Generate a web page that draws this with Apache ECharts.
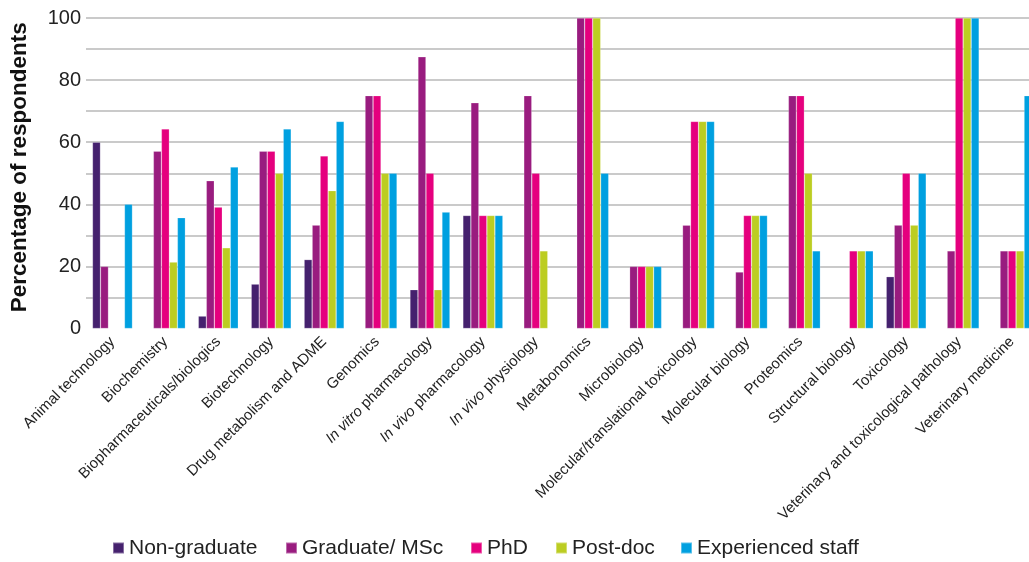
<!DOCTYPE html>
<html>
<head>
<meta charset="utf-8">
<script src="https://cdn.jsdelivr.net/npm/echarts@6/dist/echarts.min.js"></script>
<style>
html,body{margin:0;padding:0;background:#fff;}
#chart{width:1029px;height:562px;}
</style>
</head>
<body>
<div id="chart"></div>
<script>
const categories = ["Animal technology","Biochemistry","Biopharmaceuticals/biologics","Biotechnology","Drug metabolism and ADME","Genomics","In vitro pharmacology","In vivo pharmacology","In vivo physiology","Metabonomics","Microbiology","Molecular/translational toxicology","Molecular biology","Proteomics","Structural biology","Toxicology","Veterinary and toxicological pathology","Veterinary medicine"];
const seriesNames = ["Non-graduate","Graduate/ MSc","PhD","Post-doc","Experienced staff"];
const nonGraduate = [60, null, 4, 14.3, 22.2, null, 12.5, 36.4, null, null, null, null, null, null, null, 16.7, null, null];
const graduateMSc = [20, 57.1, 47.6, 57.1, 33.3, 75, 87.5, 72.7, 75, 100, 20, 33.3, 18.2, 75, null, 33.3, 25, 25];
const phd = [null, 64.3, 39.1, 57.1, 55.6, 75, 50, 36.4, 50, 100, 20, 66.7, 36.4, 75, 25, 50, 100, 25];
const postDoc = [null, 21.4, 26, 50, 44.4, 50, 12.5, 36.4, 25, 100, 20, 66.7, 36.4, 50, 25, 33.3, 100, 25];
const experiencedStaff = [40, 35.7, 52, 64.3, 66.7, 50, 37.5, 36.4, null, 50, 20, 66.7, 36.4, 25, 25, 50, 100, 75];
const yTicks = [0, 20, 40, 60, 80, 100];

const colors = ["#45216e", "#991c7f", "#e5007e", "#bccd22", "#00a0e0"];
const allData = [nonGraduate, graduateMSc, phd, postDoc, experiencedStaff];
const italicPrefix = ["In vitro", "In vivo"];

const chart = echarts.init(document.getElementById('chart'), null, {renderer: 'canvas'});
const font = '"Liberation Sans", Arial, Helvetica, sans-serif';
const legendLefts = [112, 285, 470, 555, 680];

const option = {
  animation: false,
  backgroundColor: '#fff',
  grid: {left: 86, right: -9.5, top: 18, bottom: 233.5, containLabel: false, outerBoundsMode: 'none'},
  legend: seriesNames.map((n, i) => ({
    data: [n], left: legendLefts[i], top: 537.5, icon: 'rect', itemWidth: 11, itemHeight: 11, itemGap: 0,
    textStyle: {fontSize: 21, color: '#222', fontFamily: font},
    padding: 0
  })),
  xAxis: {
    type: 'category',
    data: categories,
    axisLine: {show: false},
    axisTick: {show: false},
    splitLine: {show: false},
    axisLabel: {
      interval: 0, rotate: 45, fontSize: 15, color: '#222', fontFamily: font, margin: 11,
      formatter: function (v) {
        for (const p of italicPrefix) {
          if (v.indexOf(p + ' ') === 0) return '{i|' + p + '} ' + v.slice(p.length + 1);
        }
        return v;
      },
      rich: {i: {fontStyle: 'italic', fontSize: 15, color: '#222', fontFamily: font}}
    }
  },
  yAxis: {
    type: 'value', min: 0, max: 100, interval: 10,
    name: 'Percentage of respondents', nameLocation: 'middle', nameGap: 55,
    nameTextStyle: {fontSize: 22.5, fontWeight: 'bold', color: '#111', fontFamily: font, padding: [0, 0, 0, 12]},
    axisLine: {show: false}, axisTick: {show: false},
    axisLabel: {
      fontSize: 20, color: '#222', fontFamily: font, margin: 5,
      formatter: v => (yTicks.indexOf(v) >= 0 ? String(v) : '')
    },
    splitLine: {show: true, showMinLine: false, lineStyle: {color: '#b8b8b8', width: 1.5}}
  },
  series: seriesNames.map((n, i) => ({
    name: n, type: 'bar', data: allData[i], barWidth: 8, barGap: '0%',
    itemStyle: {color: colors[i], borderColor: 'rgba(255,255,255,0.35)', borderWidth: 0.6}
  }))
};
chart.setOption(option);
</script>
</body>
</html>
